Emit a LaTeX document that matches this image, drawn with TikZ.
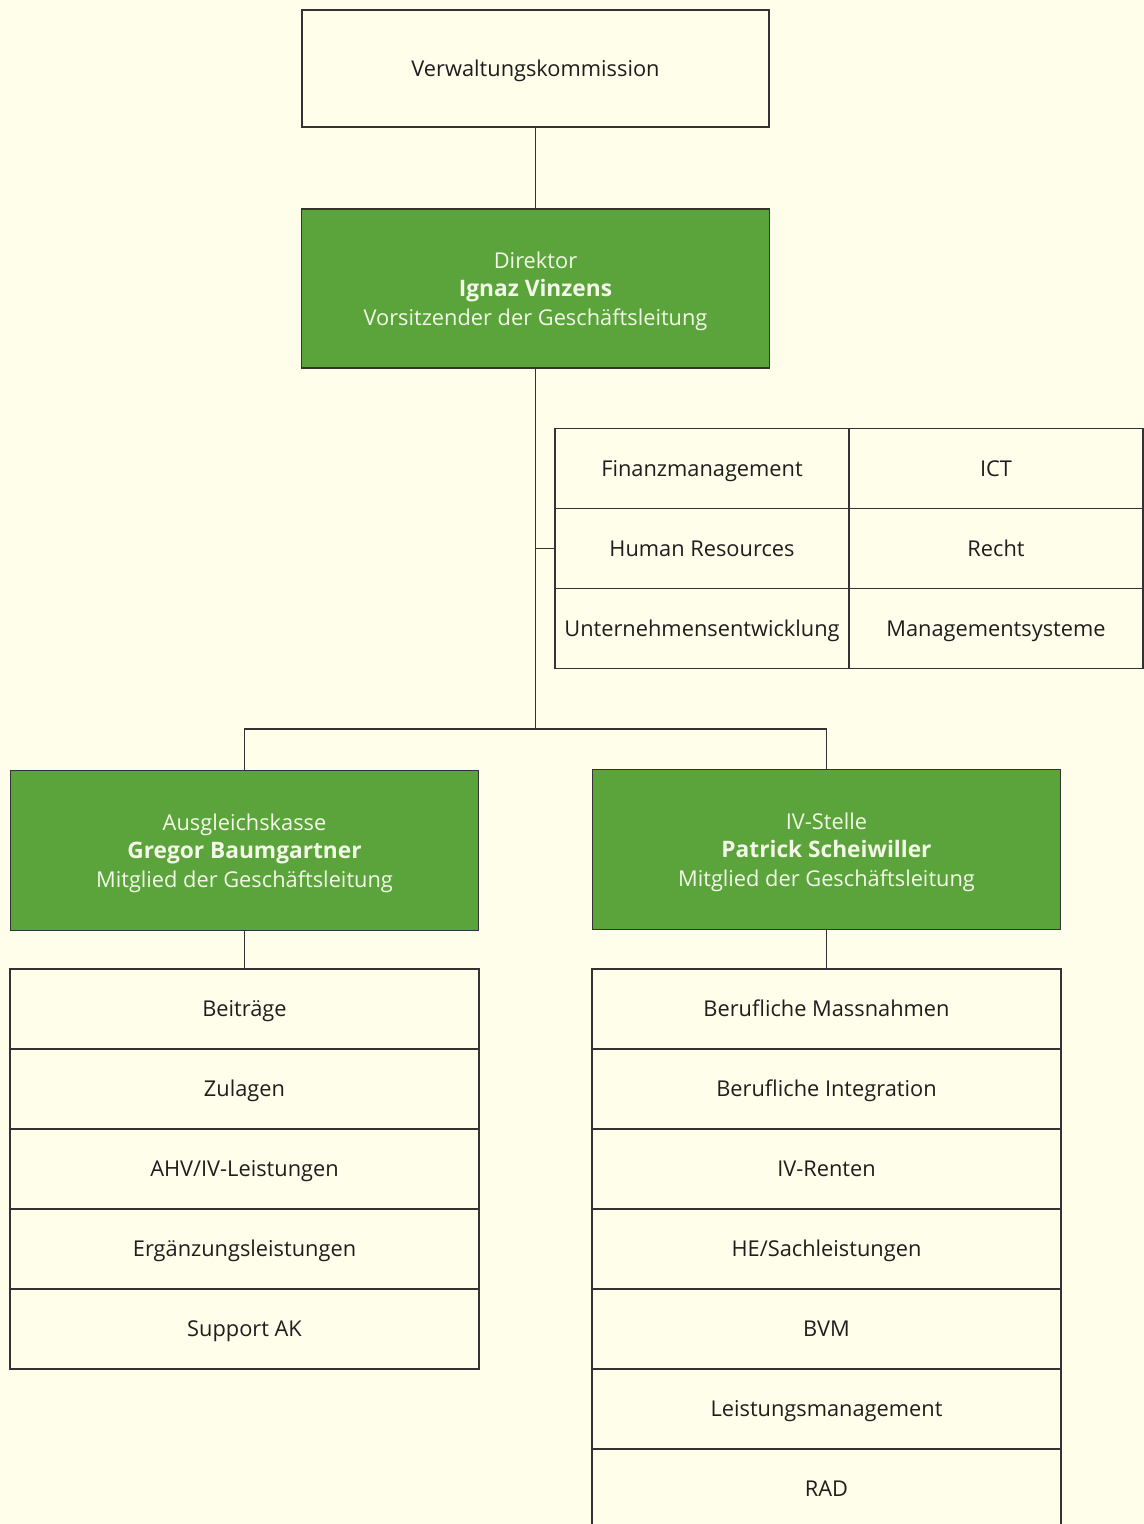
\documentclass[tikz,border=0pt]{standalone}
\usepackage{fontspec}
\setmainfont{Open Sans}
\usepackage{tikz}
\usetikzlibrary{positioning}

\definecolor{paper}{HTML}{FFFEEB}
\definecolor{leafgreen}{HTML}{5BA43B}
\definecolor{inkline}{HTML}{333333}
\definecolor{inktext}{HTML}{1E1E1E}
\definecolor{lighttext}{HTML}{F4F8E8}

% name line in the green boxes
\newcommand{\headname}[1]{{\fontsize{11.35}{14.3}\selectfont\bfseries #1}}

\begin{document}
\begin{tikzpicture}[
            x = 0.5pt, y = -0.5pt, % one unit = one pixel of the chart
            line width = 0.7pt,
            draw = inkline,
            font = \fontsize{10.9}{14.3}\selectfont,
            node distance = 0pt % rows sit flush on each other
        ]

        \tikzstyle{every node}=[
            outer sep = 0pt,
            inner sep = 0pt,
            text = inktext
        ]
        \tikzstyle{onerow}=[
            text height = 7.8pt, % cap height, so the caps sit centred
            text depth = 0pt
        ]
        \tikzstyle{board}=[
            onerow,
            draw = inkline,
            minimum width = 233.5pt,
            minimum height = 58.5pt
        ]
        \tikzstyle{lead}=[
            draw = inkline,
            fill = leafgreen,
            text = lighttext,
            align = center,
            text depth = 0pt,
            minimum width = 234pt,
            minimum height = 80pt
        ]
        \tikzstyle{staff}=[
            onerow,
            draw = inkline,
            minimum width = 147pt,
            minimum height = 40pt
        ]
        \tikzstyle{unit}=[
            onerow,
            draw = inkline,
            minimum width = 234.5pt,
            minimum height = 40pt
        ]

        % page
        \fill[paper] (0,0) rectangle (1144,1524);
        \useasboundingbox (0,0) rectangle (1144,1524);

	% top level
        \node[board] (VK) at (535.5,68.5) {Verwaltungskommission};
        \node[lead, minimum height = 79.5pt] (Dir) at (535.5,288.5)
            {Direktor\\\headname{Ignaz Vinzens}\\Vorsitzender der Geschäftsleitung};

        \draw (VK.south) -- (Dir.north);

	% staff units
        \node[staff] (Fin) at (702,468.5) {Finanzmanagement};
        \node[staff, right = of Fin] (ICT) {ICT};
        \node[staff, below = of Fin] (HR) {Human Resources};
        \node[staff, right = of HR] (Recht) {Recht};
        \node[staff, below = of HR] (UE) {Unternehmensentwicklung};
        \node[staff, right = of UE] (MS) {Managementsysteme};

        \coordinate (split) at (535.5,729);
        \draw (Dir.south) -- (split);
        \draw (HR.west) -- (HR.west -| split);

	% divisions
        \node[lead] (AK) at (244.5,850.5)
            {Ausgleichskasse\\\headname{Gregor Baumgartner}\\Mitglied der Geschäftsleitung};
        \node[lead] (IV) at (826.5,849.5)
            {IV-Stelle\\\headname{Patrick Scheiwiller}\\Mitglied der Geschäftsleitung};

        \draw (AK.north) |- (split) -| (IV.north);

	% Ausgleichskasse sections
        \node[unit] (Beitr) at (244.5,1009) {Beiträge};
        \node[unit, below = of Beitr] (Zul) {Zulagen};
        \node[unit, below = of Zul] (AHV) {AHV/IV-Leistungen};
        \node[unit, below = of AHV] (EL) {Ergänzungsleistungen};
        \node[unit, below = of EL] (SupAK) {Support AK};

        \draw (AK.south) -- (Beitr.north);

	% IV-Stelle sections
        \node[unit] (BM) at (826.5,1009) {Berufliche Massnahmen};
        \node[unit, below = of BM] (BI) {Berufliche Integration};
        \node[unit, below = of BI] (Rent) {IV-Renten};
        \node[unit, below = of Rent] (HE) {HE/Sachleistungen};
        \node[unit, below = of HE] (BVM) {BVM};
        \node[unit, below = of BVM] (LM) {Leistungsmanagement};
        \node[unit, below = of LM] (RAD) {RAD};

        \draw (IV.south) -- (BM.north);

  \end{tikzpicture}
\end{document}
